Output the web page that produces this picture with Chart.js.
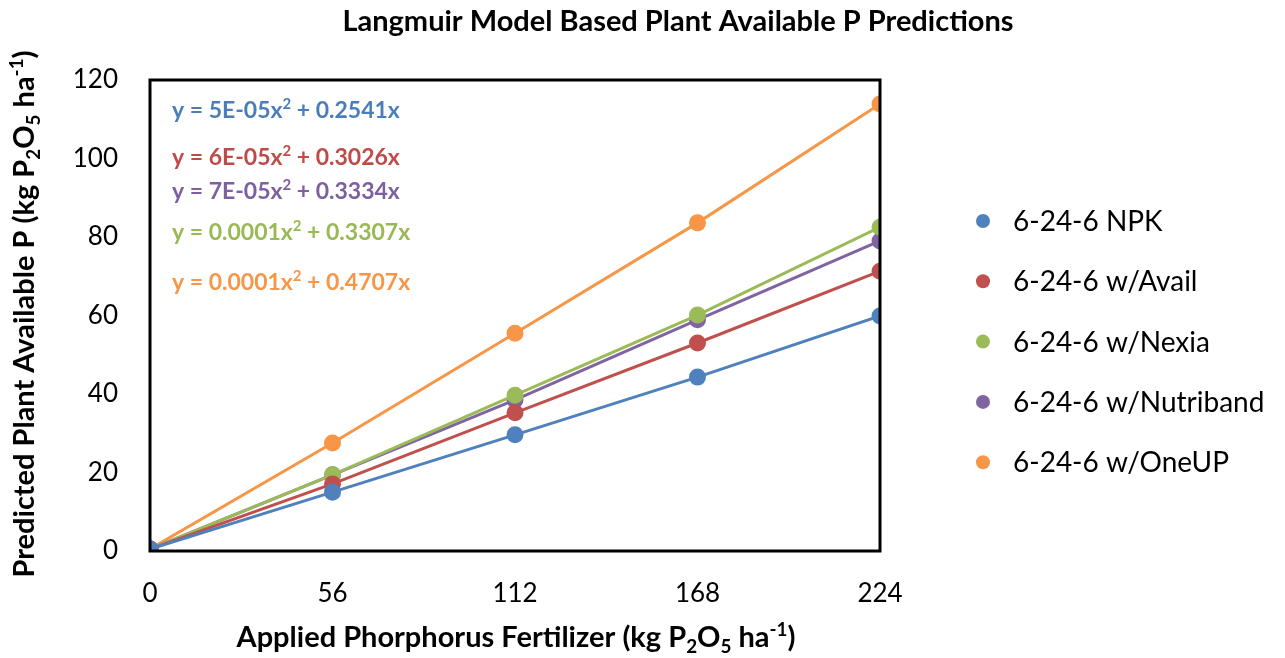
<!DOCTYPE html>
<html>
<head>
<meta charset="utf-8">
<script src="https://cdn.jsdelivr.net/npm/chart.js@4.4.1/dist/chart.umd.min.js"></script>
<style>
  html, body { margin: 0; padding: 0; background: #fff; }
  #wrap { width: 1285px; height: 658px; }
</style>
</head>
<body>
<div id="wrap"><canvas id="chart" width="1285" height="658"></canvas></div>
<script>
const fontFamily = "Lato, 'Open Sans', 'Liberation Sans', sans-serif";

// data
const rates = [0, 56, 112, 168, 224];
const npk = [0.5, 15.0, 29.6, 44.3, 59.9];
const avail = [0.5, 17.1, 35.2, 53.0, 71.3];
const nexia = [0.5, 19.4, 39.7, 60.1, 82.5];
const nutriband = [0.5, 19.4, 38.5, 58.9, 79.0];
const oneup = [0.5, 27.5, 55.5, 83.6, 113.9];

const seriesNames = ["6-24-6 NPK", "6-24-6 w/Avail", "6-24-6 w/Nexia", "6-24-6 w/Nutriband", "6-24-6 w/OneUP"];
const seriesColors = ["#4f81bd", "#c0504d", "#9bbb59", "#8064a2", "#f79646"];
const seriesValues = [npk, avail, nexia, nutriband, oneup];

// trendline equations shown in the plot
const equations = [
  { a: "5E-05", b: "0.2541", color: "#4a7ebb", y: 110 },
  { a: "6E-05", b: "0.3026", color: "#be4b48", y: 157 },
  { a: "7E-05", b: "0.3334", color: "#7d60a0", y: 191 },
  { a: "0.0001", b: "0.3307", color: "#98b954", y: 232 },
  { a: "0.0001", b: "0.4707", color: "#f79646", y: 282 },
];

const datasets = seriesNames.map((name, i) => ({
  label: name,
  data: rates.map((x, j) => ({ x: x, y: seriesValues[i][j] })),
  borderColor: seriesColors[i],
  backgroundColor: seriesColors[i],
  pointRadius: 7,
  pointHoverRadius: 7,
  borderWidth: 3,
  showLine: true,
  tension: 0,
}));

// draw text made of segments: normal, sub, sup
function drawRich(ctx, parts, x, y, size, bold, align) {
  const f = (s) => (bold ? "bold " : "") + s + "px " + fontFamily;
  let total = 0;
  parts.forEach((p) => {
    ctx.font = f(p[1] ? size * 0.65 : size);
    total += ctx.measureText(p[0]).width;
  });
  let cx = align === "center" ? x - total / 2 : x;
  ctx.textBaseline = "alphabetic";
  ctx.textAlign = "left";
  parts.forEach((p) => {
    const s = p[1] ? size * 0.65 : size;
    ctx.font = f(s);
    let dy = 0;
    if (p[1] === "sub") dy = size * 0.2;
    if (p[1] === "sup") dy = -size * 0.38;
    ctx.fillText(p[0], cx, y + dy);
    cx += ctx.measureText(p[0]).width;
  });
}

const decorPlugin = {
  id: "decor",
  afterDraw(chart) {
    const ctx = chart.ctx;
    const a = chart.chartArea;
    ctx.save();
    // frame
    ctx.strokeStyle = "#000";
    ctx.lineWidth = 3;
    ctx.strokeRect(a.left, a.top, a.right - a.left, a.bottom - a.top);

    ctx.fillStyle = "#000";
    // title
    drawRich(ctx, [["Langmuir Model Based Plant Available P Predictions"]], 678, 31, 29, true, "center");
    // x title
    drawRich(ctx, [["Applied Phorphorus Fertilizer (kg P"], ["2", "sub"], ["O"], ["5", "sub"], [" ha"], ["-1", "sup"], [")"]], 516, 647, 29, true, "center");
    // y title
    ctx.save();
    ctx.translate(34, 314);
    ctx.rotate(-Math.PI / 2);
    drawRich(ctx, [["Predicted Plant Available P (kg P"], ["2", "sub"], ["O"], ["5", "sub"], [" ha"], ["-1", "sup"], [")"]], 0, 0, 29, true, "center");
    ctx.restore();

    // equations
    equations.forEach((e) => {
      ctx.fillStyle = e.color;
      drawRich(ctx, [["y = " + e.a + "x"], ["2", "sup"], [" + " + e.b + "x"]], 172, e.y + 8, 23, true, "left");
    });

    // legend
    seriesNames.forEach((name, i) => {
      const ly = 221 + i * 60.3;
      ctx.fillStyle = seriesColors[i];
      ctx.beginPath();
      ctx.arc(983, ly, 7, 0, Math.PI * 2);
      ctx.fill();
      ctx.fillStyle = "#000";
      ctx.font = "28px " + fontFamily;
      ctx.textAlign = "left";
      ctx.textBaseline = "middle";
      ctx.fillText(name, 1013, ly + 1);
    });
    ctx.restore();
  },
};

new Chart(document.getElementById("chart").getContext("2d"), {
  type: "scatter",
  data: { datasets: datasets },
  options: {
    responsive: false,
    animation: false,
    layout: { padding: { left: 0, right: 405, top: 80, bottom: 0 } },
    plugins: {
      legend: { display: false },
      tooltip: { enabled: false },
      title: { display: false },
    },
    scales: {
      x: {
        type: "linear",
        min: 0,
        max: 224,
        afterBuildTicks: (scale) => {
          scale.ticks = rates.map((v) => ({ value: v }));
        },
        afterFit: (scale) => { scale.height = 107; },
        grid: { display: false, drawTicks: false },
        border: { display: false },
        ticks: {
          color: "#000",
          padding: 27,
          font: { size: 26, family: fontFamily },
        },
      },
      y: {
        min: 0,
        max: 120,
        afterFit: (scale) => { scale.width = 150; },
        grid: { display: false, drawTicks: false },
        border: { display: false },
        ticks: {
          stepSize: 20,
          color: "#000",
          padding: 32,
          font: { size: 26, family: fontFamily },
        },
      },
    },
  },
  plugins: [decorPlugin],
});
</script>
</body>
</html>
